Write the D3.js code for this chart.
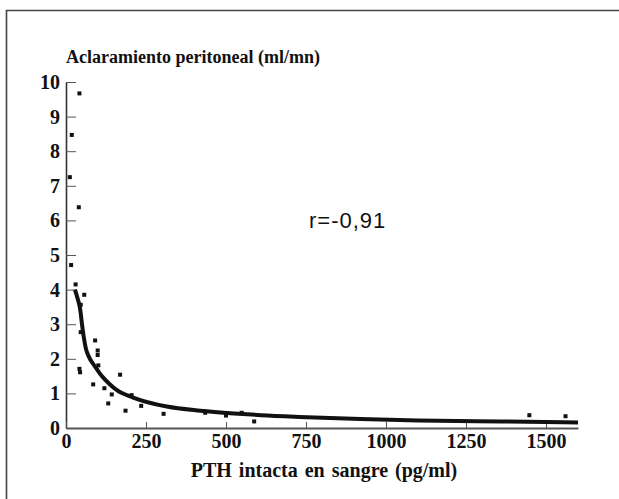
<!DOCTYPE html>
<html>
<head>
<meta charset="utf-8">
<script src="https://cdn.jsdelivr.net/npm/d3@7"></script>
<style>
  body { margin: 0; background: #fff; }
  svg { display: block; }
</style>
</head>
<body>
<div id="chart"></div>
<script>
// datos
var pth = [12, 18, 42, 40, 16, 30, 57, 46, 46, 42, 44, 91, 99, 99, 101, 85, 120, 143, 132, 169, 186, 205, 235, 305, 435, 500, 549, 588, 1448, 1561];
var aclaramiento = [7.25, 8.47, 9.67, 6.38, 4.71, 4.15, 3.85, 3.56, 2.77, 1.71, 1.61, 2.53, 2.24, 2.11, 1.81, 1.26, 1.15, 0.97, 0.71, 1.54, 0.5, 0.95, 0.64, 0.41, 0.44, 0.36, 0.44, 0.19, 0.37, 0.34];

var curvaX = [28, 36, 44, 50, 56, 62, 72, 85, 95, 112, 135, 158, 210, 315, 420, 525, 610, 730, 920, 1100, 1360, 1600];
var curvaY = [4.0, 3.75, 3.45, 3.0, 2.6, 2.3, 2.05, 1.85, 1.72, 1.5, 1.28, 1.1, 0.88, 0.62, 0.5, 0.42, 0.37, 0.32, 0.26, 0.22, 0.19, 0.16];

var xTicks = [0, 250, 500, 750, 1000, 1250, 1500];
var yTicks = [0, 1, 2, 3, 4, 5, 6, 7, 8, 9, 10];

var width = 619, height = 499;
var serif = "'Liberation Serif', 'DejaVu Serif', serif";

var svg = d3.select("#chart").append("svg")
    .attr("width", width)
    .attr("height", height);

// marco
svg.append("path")
    .attr("d", "M6.5,499 V10.5 H619")
    .attr("fill", "none")
    .attr("stroke", "#444")
    .attr("stroke-width", 1.6);

var x = d3.scaleLinear().domain([0, 1600]).range([66, 578]);
var y = d3.scaleLinear().domain([0, 10]).range([428, 82]);

// eje y
var gy = svg.append("g")
    .attr("transform", "translate(66,0)")
    .call(d3.axisLeft(y).tickValues(yTicks).tickSizeInner(-10).tickSizeOuter(0).tickPadding(6).tickFormat(d3.format("d")));
gy.select(".domain").attr("stroke", "#333").attr("stroke-width", 1.6);
gy.selectAll(".tick line").attr("stroke", "#555").attr("stroke-width", 1);
gy.selectAll(".tick text")
    .attr("fill", "#111")
    .style("font-family", serif)
    .style("font-weight", "bold")
    .style("font-size", "20px");

// eje x
var gx = svg.append("g")
    .attr("transform", "translate(0,428)")
    .call(d3.axisBottom(x).tickValues(xTicks).tickSizeInner(-6).tickSizeOuter(0).tickPadding(6).tickFormat(d3.format("d")));
gx.select(".domain").attr("stroke", "#555").attr("stroke-width", 2);
gx.selectAll(".tick line").attr("stroke", "#555").attr("stroke-width", 1);
gx.selectAll(".tick text")
    .attr("fill", "#111")
    .style("font-family", serif)
    .style("font-weight", "bold")
    .style("font-size", "20px");

// titulos
svg.append("text")
    .attr("x", 66)
    .attr("y", 63)
    .attr("fill", "#111")
    .style("font-family", serif)
    .style("font-weight", "bold")
    .style("font-size", "18px")
    .text("Aclaramiento peritoneal (ml/mn)");

svg.append("text")
    .attr("x", 324)
    .attr("y", 477)
    .attr("text-anchor", "middle")
    .attr("fill", "#111")
    .style("font-family", serif)
    .style("font-weight", "bold")
    .style("font-size", "20px")
    .style("word-spacing", "2px")
    .text("PTH intacta en sangre (pg/ml)");

svg.append("text")
    .attr("x", 309)
    .attr("y", 228)
    .attr("fill", "#111")
    .style("font-family", "'Liberation Sans', Arial, sans-serif")
    .style("font-size", "22px")
    .style("letter-spacing", "1px")
    .text("r=-0,91");

// curva
var linea = d3.line()
    .x(function (d, i) { return x(curvaX[i]); })
    .y(function (d) { return y(d); })
    .curve(d3.curveMonotoneX);

svg.append("path")
    .datum(curvaY)
    .attr("d", linea)
    .attr("fill", "none")
    .attr("stroke", "#111")
    .attr("stroke-width", 4);

// puntos
svg.append("g")
    .selectAll("rect")
    .data(pth)
    .join("rect")
    .attr("x", function (d) { return x(d) - 2; })
    .attr("y", function (d, i) { return y(aclaramiento[i]) - 2; })
    .attr("width", 4)
    .attr("height", 4)
    .attr("fill", "#111");
</script>
</body>
</html>
